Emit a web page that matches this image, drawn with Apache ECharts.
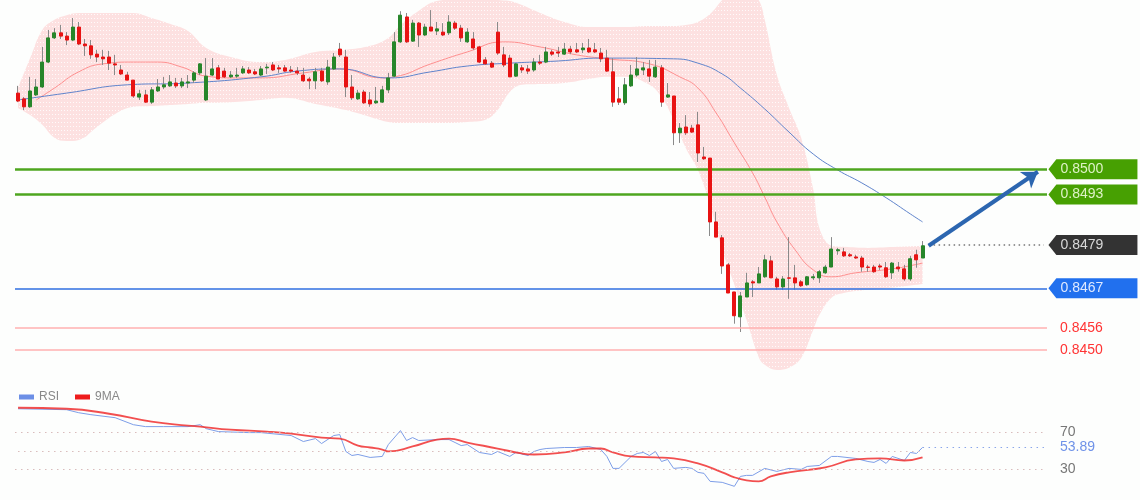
<!DOCTYPE html>
<html>
<head>
<meta charset="utf-8">
<script src="https://cdn.jsdelivr.net/npm/echarts@6/dist/echarts.min.js"></script>
<style>
  html, body { margin: 0; padding: 0; background: #fdfefd; }
  #chart { width: 1140px; height: 500px; }
</style>
</head>
<body>
<div id="chart"></div>
<script>
// candles (price)
const candleOpen = [
  0.85211,0.85195,0.85173,0.85206,0.85228,0.85297,0.85364,0.85378,0.85369,0.85358,
  0.85394,0.85347,0.85342,0.85319,0.85311,0.85311,0.85292,0.85275,0.85261,0.85247,
  0.85200,0.85206,0.85186,0.85217,0.85228,0.85231,0.85239,0.85231,0.85239,0.85247,
  0.85267,0.85192,0.85261,0.85281,0.85272,0.85256,0.85258,0.85267,0.85275,0.85270,
  0.85261,0.85281,0.85289,0.85281,0.85281,0.85275,0.85272,0.85261,0.85250,0.85245,
  0.85272,0.85242,0.85278,0.85333,0.85311,0.85228,0.85195,0.85214,0.85192,0.85184,
  0.85186,0.85220,0.85258,0.85353,0.85422,0.85355,0.85405,0.85372,0.85394,0.85383,
  0.85380,0.85378,0.85405,0.85391,0.85353,0.85361,0.85339,0.85303,0.85294,0.85380,
  0.85317,0.85308,0.85258,0.85281,0.85278,0.85275,0.85297,0.85297,0.85325,0.85325,
  0.85319,0.85333,0.85331,0.85331,0.85336,0.85331,0.85322,0.85308,0.85270,0.85195,
  0.85184,0.85231,0.85261,0.85275,0.85278,0.85256,0.85281,0.85200,0.85203,0.85101,
  0.85117,0.85114,0.85123,0.85034,0.85031,0.84854,0.84810,0.84735,0.84660,0.84591,
  0.84646,0.84688,0.84685,0.84702,0.84746,0.84696,0.84674,0.84699,0.84699,0.84688,
  0.84680,0.84699,0.84699,0.84713,0.84729,0.84774,0.84771,0.84763,0.84757,0.84754,
  0.84729,0.84729,0.84732,0.84727,0.84713,0.84729,0.84724,0.84696,0.84763,0.84754
];
const candleClose = [
  0.85189,0.85173,0.85217,0.85228,0.85297,0.85364,0.85378,0.85369,0.85358,0.85394,
  0.85347,0.85342,0.85317,0.85311,0.85306,0.85294,0.85289,0.85264,0.85247,0.85203,
  0.85209,0.85186,0.85220,0.85228,0.85234,0.85242,0.85231,0.85242,0.85242,0.85267,
  0.85292,0.85258,0.85278,0.85250,0.85256,0.85261,0.85261,0.85278,0.85267,0.85264,
  0.85278,0.85283,0.85275,0.85278,0.85272,0.85272,0.85267,0.85245,0.85245,0.85270,
  0.85245,0.85283,0.85311,0.85317,0.85228,0.85198,0.85211,0.85184,0.85181,0.85189,
  0.85220,0.85253,0.85353,0.85427,0.85353,0.85405,0.85372,0.85394,0.85383,0.85389,
  0.85372,0.85408,0.85391,0.85364,0.85380,0.85336,0.85297,0.85292,0.85283,0.85322,
  0.85289,0.85256,0.85292,0.85275,0.85272,0.85297,0.85294,0.85325,0.85319,0.85322,
  0.85333,0.85325,0.85325,0.85336,0.85325,0.85325,0.85306,0.85272,0.85186,0.85186,
  0.85234,0.85261,0.85278,0.85281,0.85258,0.85283,0.85186,0.85206,0.85101,0.85114,
  0.85101,0.85103,0.85045,0.85029,0.84854,0.84812,0.84732,0.84657,0.84594,0.84649,
  0.84685,0.84685,0.84710,0.84749,0.84699,0.84674,0.84696,0.84698,0.84685,0.84677,
  0.84702,0.84702,0.84716,0.84729,0.84779,0.84777,0.84760,0.84760,0.84754,0.84729,
  0.84728,0.84716,0.84729,0.84702,0.84740,0.84724,0.84696,0.84752,0.84749,0.84788
];
const candleLow = [
  0.85186,0.85164,0.85170,0.85203,0.85225,0.85294,0.85361,0.85361,0.85344,0.85355,
  0.85344,0.85314,0.85306,0.85297,0.85289,0.85275,0.85261,0.85261,0.85247,0.85198,
  0.85192,0.85184,0.85181,0.85214,0.85222,0.85228,0.85225,0.85225,0.85225,0.85239,
  0.85261,0.85189,0.85258,0.85250,0.85253,0.85253,0.85253,0.85264,0.85264,0.85261,
  0.85258,0.85264,0.85272,0.85267,0.85270,0.85267,0.85261,0.85242,0.85222,0.85222,
  0.85242,0.85234,0.85275,0.85311,0.85200,0.85192,0.85192,0.85181,0.85173,0.85181,
  0.85184,0.85211,0.85256,0.85350,0.85350,0.85353,0.85339,0.85369,0.85383,0.85372,
  0.85369,0.85372,0.85386,0.85353,0.85350,0.85331,0.85294,0.85289,0.85281,0.85317,
  0.85283,0.85256,0.85256,0.85267,0.85264,0.85270,0.85289,0.85294,0.85314,0.85311,
  0.85317,0.85319,0.85322,0.85322,0.85322,0.85322,0.85297,0.85270,0.85173,0.85178,
  0.85178,0.85228,0.85256,0.85261,0.85242,0.85253,0.85173,0.85198,0.85067,0.85073,
  0.85095,0.85101,0.85020,0.85026,0.84815,0.84812,0.84710,0.84657,0.84572,0.84549,
  0.84646,0.84646,0.84685,0.84699,0.84699,0.84666,0.84666,0.84641,0.84666,0.84674,
  0.84677,0.84693,0.84685,0.84710,0.84729,0.84763,0.84757,0.84757,0.84752,0.84716,
  0.84716,0.84713,0.84721,0.84699,0.84696,0.84716,0.84691,0.84691,0.84727,0.84754
];
const candleHigh = [
  0.85231,0.85200,0.85256,0.85250,0.85339,0.85386,0.85391,0.85400,0.85380,0.85419,
  0.85408,0.85361,0.85358,0.85331,0.85331,0.85328,0.85317,0.85289,0.85270,0.85247,
  0.85220,0.85220,0.85228,0.85250,0.85256,0.85261,0.85253,0.85253,0.85261,0.85272,
  0.85294,0.85308,0.85308,0.85289,0.85281,0.85272,0.85281,0.85286,0.85283,0.85278,
  0.85286,0.85292,0.85297,0.85289,0.85289,0.85286,0.85283,0.85281,0.85256,0.85281,
  0.85281,0.85303,0.85322,0.85350,0.85331,0.85261,0.85220,0.85220,0.85214,0.85228,
  0.85231,0.85267,0.85380,0.85438,0.85433,0.85414,0.85408,0.85403,0.85441,0.85408,
  0.85405,0.85427,0.85411,0.85400,0.85391,0.85380,0.85342,0.85311,0.85300,0.85408,
  0.85339,0.85317,0.85294,0.85289,0.85289,0.85308,0.85317,0.85339,0.85331,0.85339,
  0.85350,0.85342,0.85350,0.85350,0.85361,0.85350,0.85336,0.85331,0.85308,0.85228,
  0.85253,0.85289,0.85311,0.85297,0.85303,0.85303,0.85289,0.85239,0.85203,0.85128,
  0.85150,0.85123,0.85159,0.85062,0.85031,0.84882,0.84818,0.84740,0.84660,0.84660,
  0.84713,0.84693,0.84729,0.84763,0.84760,0.84702,0.84704,0.84812,0.84735,0.84693,
  0.84704,0.84710,0.84721,0.84735,0.84812,0.84782,0.84782,0.84768,0.84763,0.84760,
  0.84735,0.84735,0.84738,0.84743,0.84743,0.84743,0.84735,0.84760,0.84777,0.84801
];

// bollinger band, sampled at candle indices
const bandIdx = [0,2,4,6,8,10,13,16,19,22,25,28,31,35,40,44,49,54,58,61,63,66,68,70,74,
  77,79,81,83,86,90,94,97,100,104,106,108,110,112,114,116,118,120,122,123,125,127,129,131,132,
  134,136,140,145,149];
const bandUpper = [0.85225,0.85308,0.85386,0.85414,0.85427,0.85433,0.85433,0.85433,0.85433,0.85419,
  0.85403,0.85383,0.85336,0.85311,0.85297,0.85303,0.85325,0.85331,0.85342,0.85364,
  0.85400,0.85439,0.85461,0.85469,0.85475,0.85475,0.85469,0.85466,0.85455,0.85433,
  0.85408,0.85394,0.85394,0.85394,0.85397,0.85397,0.85397,0.85400,0.85408,0.85430,
  0.85469,0.85502,0.85502,0.85469,0.85414,0.85261,0.85170,0.85087,0.84943,0.84837,
  0.84788,0.84785,0.84782,0.84785,0.84788];
const bandLower = [0.85170,0.85150,0.85123,0.85087,0.85078,0.85081,0.85117,0.85153,0.85173,0.85175,
  0.85178,0.85181,0.85184,0.85186,0.85192,0.85198,0.85181,0.85164,0.85145,0.85131,
  0.85128,0.85128,0.85128,0.85128,0.85131,0.85137,0.85164,0.85214,0.85234,0.85236,
  0.85239,0.85250,0.85256,0.85256,0.85234,0.85200,0.85137,0.85059,0.84998,0.84901,
  0.84777,0.84680,0.84583,0.84480,0.84458,0.84444,0.84450,0.84477,0.84555,0.84596,
  0.84644,0.84657,0.84666,0.84674,0.84682];

// moving averages
const fastMaIdx = [3,6,10,14,19,23,27,31,36,40,47,53,60,62,68,74,80,86,92,97,104,109,112,115,118,121,123,125,128,131,134,138,144,149];
const fastMa = [0.85192,0.85225,0.85270,0.85292,0.85297,0.85297,0.85283,0.85258,0.85253,0.85253,
  0.85267,0.85278,0.85253,0.85256,0.85292,0.85325,0.85353,0.85339,0.85317,0.85306,
  0.85292,0.85256,0.85225,0.85156,0.85073,0.84990,0.84923,0.84854,0.84777,0.84721,
  0.84702,0.84713,0.84724,0.84740];
const slowMaIdx = [0,8,18,28,40,46,53,61,68,74,81,89,96,108,112,116,119,123,127,131,135,139,143,147,149];
const slowMa = [0.85192,0.85211,0.85234,0.85239,0.85256,0.85272,0.85278,0.85253,0.85270,0.85286,
  0.85294,0.85300,0.85308,0.85306,0.85294,0.85264,0.85225,0.85167,0.85103,0.85042,
  0.84998,0.84962,0.84921,0.84876,0.84854];

// RSI panel
const rsiIdx = [0,8,10,12,16,19,21,24,28,30,31,33,38,40,45,47,49,50,52,53,54,55,56,58,60,
  61,63,64,65,66,69,71,72,73,74,76,78,79,81,82,84,85,86,87,90,92,94,96,97,98,
  99,101,102,103,104,105,106,107,108,110,111,112,113,114,116,118,119,120,121,123,
  125,127,129,130,132,134,135,138,140,141,142,143,144,146,147,148,149];
const rsiVals = [95.9,94.9,91.6,89.5,86.2,78.6,76.5,76.5,76.5,78.6,74.3,71.1,70.0,70.0,66.8,
  60.3,63.5,58.1,66.8,67.8,49.5,45.1,46.2,43.0,44.1,57.0,72.2,61.4,64.6,61.4,
  62.4,62.4,59.2,55.9,57.0,48.4,46.2,49.5,44.1,48.4,45.1,49.5,51.6,52.7,53.8,
  53.8,54.9,51.6,44.1,31.1,31.1,44.1,47.3,48.4,45.1,49.5,38.6,40.8,31.1,32.2,
  31.1,26.8,25.7,17.0,15.9,11.6,22.4,23.5,23.5,31.1,27.8,31.1,30.0,33.2,34.3,
  44.1,44.1,41.9,38.6,37.6,40.8,36.5,44.1,39.7,48.4,47.3,53.89];
const rsiMaIdx = [0,8,15,22,28,30,35,41,45,50,53,56,58,60,61,65,69,71,74,79,83,85,90,94,96,98,101,105,108,112,116,118,120,122,124,127,133,138,142,146,149];
const rsiMa = [97.0,95.9,90.5,81.9,77.6,76.5,73.2,71.1,68.9,64.6,63.5,55.9,53.8,51.6,49.5,
  54.9,62.4,63.5,59.2,52.7,47.3,46.2,48.4,52.7,52.7,48.4,44.1,43.0,41.9,36.5,
  26.8,21.4,18.1,17.0,22.4,26.8,32.2,40.8,41.9,39.7,43.0];
const rsiLast = 53.89;

// levels
const resistance = [0.8500, 0.8493];
const lastPrice = 0.8479;
const pivot = 0.8467;
const support = [0.8456, 0.8450];
const arrowFrom = [150, 0.84788];
const arrowTo = [168, 0.84993];

const slotCount = 170; // candles + empty room on the right
const categories = Array.from({ length: slotCount }, (_, i) => String(i));
const lastSlot = slotCount - 1;
const lastCandle = candleOpen.length - 1;

const font = 'Arial, "Liberation Sans", sans-serif';

function pairs(idx, vals) {
  return idx.map((x, k) => [x, vals[k]]);
}

function bandPattern() {
  const c = document.createElement('canvas');
  c.width = 3; c.height = 4;
  const ctx = c.getContext('2d');
  ctx.fillStyle = '#fde1e1';
  ctx.fillRect(0, 0, 3, 4);
  ctx.fillStyle = 'rgba(255,255,255,0.85)';
  ctx.fillRect(1, 2, 1, 1);
  return c;
}

const tagPath = 'path://M0,10L8,0L90,0L90,20L8,20Z';
function tag(value, bg, fg) {
  return {
    coord: [lastSlot, value],
    value: value.toFixed(4),
    itemStyle: { color: bg },
    label: { color: fg }
  };
}

function redLevel(v) {
  return {
    yAxis: v,
    lineStyle: { color: '#ffb0b0', width: 1.5, type: 'solid' },
    label: { show: true, position: 'end', distance: 13, formatter: v.toFixed(4), color: '#ff3434', fontSize: 14, fontFamily: font }
  };
}

const wickData = candleOpen.map((o, i) => [o, candleClose[i], candleLow[i], candleHigh[i]]);
const bodyData = candleOpen.map((o, i) => {
  const c = candleClose[i];
  return [o, c, Math.min(o, c), Math.max(o, c)];
});

var myChart = echarts.init(document.getElementById('chart'));

let option = {
  animation: false,
  backgroundColor: '#fdfefd',
  textStyle: { fontFamily: font },
  legend: {
    data: ['RSI', '9MA'],
    left: 14,
    top: 386,
    icon: 'rect',
    itemWidth: 15,
    itemHeight: 5,
    itemGap: 16,
    textStyle: { color: '#888', fontSize: 12, fontFamily: font }
  },
  grid: [
    { left: 15, right: 93, top: 0, height: 380 },
    { left: 15, right: 93, top: 405, height: 92 }
  ],
  xAxis: [
    { type: 'category', data: categories, gridIndex: 0, show: false, boundaryGap: true },
    { type: 'category', data: categories, gridIndex: 1, show: false, boundaryGap: true }
  ],
  yAxis: [
    { type: 'value', gridIndex: 0, min: 0.84416, max: 0.85469, show: false, splitLine: { show: false } },
    { type: 'value', gridIndex: 1, min: 0, max: 100, show: false, splitLine: { show: false } }
  ],
  series: [
    {
      name: 'bandBase',
      type: 'line',
      stack: 'band',
      data: pairs(bandIdx, bandLower),
      smooth: 0.4,
      showSymbol: false,
      lineStyle: { opacity: 0 },
      silent: true,
      z: 1
    },
    {
      name: 'band',
      type: 'line',
      stack: 'band',
      data: bandIdx.map((x, k) => [x, bandUpper[k] - bandLower[k]]),
      smooth: 0.4,
      showSymbol: false,
      lineStyle: { opacity: 0 },
      areaStyle: { color: { image: bandPattern(), repeat: 'repeat' }, opacity: 1 },
      silent: true,
      z: 1
    },
    {
      name: 'fastMa',
      type: 'line',
      data: pairs(fastMaIdx, fastMa),
      smooth: true,
      showSymbol: false,
      lineStyle: { color: '#ff8f8f', width: 1 },
      silent: true,
      z: 2
    },
    {
      name: 'slowMa',
      type: 'line',
      data: pairs(slowMaIdx, slowMa),
      smooth: true,
      showSymbol: false,
      lineStyle: { color: '#5f84cc', width: 1 },
      silent: true,
      z: 2
    },
    {
      name: 'wicks',
      type: 'candlestick',
      data: wickData,
      barWidth: 1,
      silent: true,
      z: 4,
      itemStyle: {
        color: '#8a8a8a', color0: '#8a8a8a',
        borderColor: '#8a8a8a', borderColor0: '#8a8a8a', borderWidth: 1
      },
      markLine: {
        symbol: 'none',
        silent: true,
        animation: false,
        precision: 5,
        label: { show: false },
        data: [
          { yAxis: resistance[0], lineStyle: { color: '#4ea61f', width: 2.5, type: 'solid' } },
          { yAxis: resistance[1], lineStyle: { color: '#4ea61f', width: 2.5, type: 'solid' } },
          { yAxis: pivot, lineStyle: { color: '#2f6fe0', width: 1.5, type: 'solid' } },
          redLevel(support[0]),
          redLevel(support[1]),
          [
            { coord: [lastCandle + 1, lastPrice], lineStyle: { color: '#777', width: 1.5, type: [1.5, 3.5] } },
            { coord: [lastSlot, lastPrice] }
          ]
        ]
      },
      markPoint: {
        symbol: tagPath,
        symbolSize: [89, 20],
        symbolOffset: [49, 0],
        silent: true,
        animation: false,
        label: { show: true, position: 'inside', offset: [-11, 0], fontSize: 14, fontFamily: font },
        data: [
          tag(resistance[0], '#47a002', '#def2c6'),
          tag(resistance[1], '#47a002', '#def2c6'),
          tag(lastPrice, '#333333', '#d8d8d8'),
          tag(pivot, '#2170ee', '#dfe9ff')
        ]
      }
    },
    {
      name: 'bodies',
      type: 'candlestick',
      data: bodyData,
      barWidth: 3.5,
      silent: true,
      z: 5,
      itemStyle: {
        color: '#27862a', color0: '#e81313',
        borderColor: '#27862a', borderColor0: '#e81313', borderWidth: 1
      }
    },
    {
      name: 'arrow',
      type: 'line',
      data: [],
      silent: true,
      z: 10,
      markLine: {
        symbol: ['none', 'arrow'],
        symbolSize: 15,
        silent: true,
        animation: false,
        precision: 5,
        label: { show: false },
        lineStyle: { color: '#2c66b0', width: 4, type: 'solid' },
        data: [[{ coord: arrowFrom }, { coord: arrowTo }]]
      }
    },
    {
      name: 'RSI',
      type: 'line',
      xAxisIndex: 1,
      yAxisIndex: 1,
      data: pairs(rsiIdx, rsiVals),
      showSymbol: false,
      color: '#6c8fe6',
      lineStyle: { color: '#7d9ee8', width: 1 },
      silent: true,
      z: 3,
      markLine: {
        symbol: 'none',
        silent: true,
        animation: false,
        precision: 2,
        label: { show: false },
        data: [
          {
            yAxis: 70,
            lineStyle: { color: '#d9bcbc', width: 1, type: [1.5, 4.5] },
            label: { show: true, position: 'end', distance: 13, formatter: '70', color: '#777', fontSize: 14, fontFamily: font }
          },
          {
            yAxis: 30,
            lineStyle: { color: '#d9bcbc', width: 1, type: [1.5, 4.5] },
            label: { show: true, position: 'end', distance: 13, formatter: '30', color: '#777', fontSize: 14, fontFamily: font }
          },
          [
            { coord: [0, 50], lineStyle: { color: '#d9bcbc', width: 1, type: [1.5, 4.5] } },
            { coord: [lastCandle, 50] }
          ],
          [
            {
              coord: [lastCandle, rsiLast],
              lineStyle: { color: '#8aa6ea', width: 1.2, type: [1.5, 4.5] },
              label: { show: true, position: 'end', distance: 16, formatter: rsiLast.toFixed(2), color: '#6f92e8', fontSize: 14, fontFamily: font }
            },
            { coord: [lastSlot, rsiLast] }
          ]
        ]
      }
    },
    {
      name: '9MA',
      type: 'line',
      xAxisIndex: 1,
      yAxisIndex: 1,
      data: pairs(rsiMaIdx, rsiMa),
      smooth: true,
      showSymbol: false,
      color: '#ee1c1c',
      lineStyle: { color: '#f03030', width: 1.8, opacity: 0.85 },
      silent: true,
      z: 4
    }
  ]
};
myChart.setOption(option);
</script>
</body>
</html>
